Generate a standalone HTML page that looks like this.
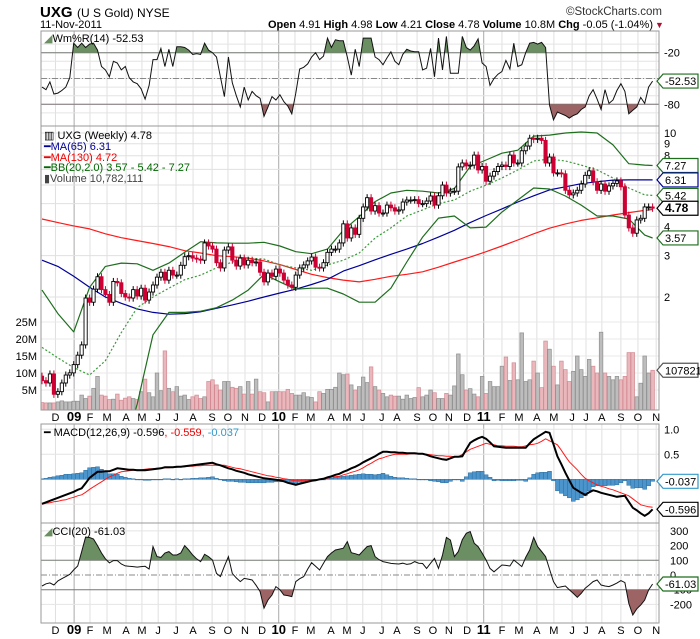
<!DOCTYPE html>
<html><head><meta charset="utf-8"><style>
body{margin:0;background:#fff;}
svg{display:block;font-family:"Liberation Sans",sans-serif;}
</style></head><body>
<svg id="chart" width="700" height="639" viewBox="0 0 700 639" xmlns="http://www.w3.org/2000/svg">
<rect x="0" y="0" width="700" height="639" fill="#fff"/>
<g id="grid"></g>
<g id="marks"></g>
<!-- header -->
<text x="40" y="17" font-size="15" font-weight="bold" fill="#000">UXG</text>
<text x="77" y="17" font-size="12" fill="#000">(U S Gold) NYSE</text>
<text x="40" y="28" font-size="11" fill="#000">11-Nov-2011</text>
<text x="662" y="15" font-size="11.5" fill="#333" text-anchor="end">©StockCharts.com</text>
<text x="653" y="28" font-size="11" fill="#000" text-anchor="end"><tspan font-weight="bold">Open</tspan> 4.91 <tspan font-weight="bold">High</tspan> 4.98 <tspan font-weight="bold">Low</tspan> 4.21 <tspan font-weight="bold">Close</tspan> 4.78 <tspan font-weight="bold">Volume</tspan> 10.8M <tspan font-weight="bold">Chg</tspan> -0.05 (-1.04%)</text>
<text x="655" y="28" font-size="9" fill="#aa1133">▼</text>
<!-- panel borders -->
<rect x="41" y="31" width="618" height="95" fill="none" stroke="#999"/>
<rect x="41" y="126" width="618" height="284" fill="none" stroke="#999"/>
<rect x="41" y="424" width="618" height="99" fill="none" stroke="#999"/>
<rect x="41" y="523" width="618" height="100" fill="none" stroke="#999"/>
<!-- legends -->
<text x="44" y="42" font-size="11" fill="#000"><tspan fill="#6b8f62">◢</tspan>Wm%R(14) -52.53</text>
<g font-size="11">
<text x="44" y="139" fill="#000">▥ UXG (Weekly) 4.78</text>
<text x="44" y="150" fill="#000099">━MA(65) 6.31</text>
<text x="44" y="161" fill="#ee0000">━MA(130) 4.72</text>
<text x="44" y="171" fill="#006600">━BB(20,2.0) 3.57 - 5.42 - 7.27</text>
<text x="44" y="182" fill="#444">▮Volume 10,782,111</text>
</g>
<text x="44" y="436" font-size="11"><tspan fill="#000">━ MACD(12,26,9) -0.596</tspan><tspan fill="#ee0000">, -0.559</tspan><tspan fill="#3399cc">, -0.037</tspan></text>
<text x="44" y="535" font-size="11" fill="#000"><tspan fill="#6b8f62">◢</tspan>CCI(20) -61.03</text>
<g id="axes" font-size="11" fill="#000"></g>
</svg>
<script>
// ---- data ----
const closes=[0.88,0.86,0.94,0.77,0.79,0.86,0.93,0.95,1.03,1.13,1.25,1.98,1.9,2.16,2.44,2.15,2.05,1.9,2.33,2.3,2.07,2.0,1.98,2.15,2.02,2.18,1.94,2.1,2.25,2.43,2.55,2.36,2.6,2.48,2.48,2.73,2.97,3.0,2.93,2.9,
2.87,3.4,3.3,3.2,2.8,2.66,3.17,3.27,2.87,2.71,2.93,2.74,2.87,2.8,2.82,2.55,2.32,2.53,2.45,2.63,2.53,2.36,2.25,2.2,2.48,2.66,2.74,2.85,2.96,2.68,2.66,2.8,3.1,3.2,3.2,3.4,4.1,
3.57,3.94,3.7,4.33,4.84,5.3,4.65,4.9,4.56,4.56,4.93,4.8,4.65,4.7,5.08,5.18,5.18,5.2,5.0,5.0,5.13,5.39,4.93,5.4,6.0,5.55,5.65,5.65,7.17,7.45,7.24,7.3,8.05,6.96,7.2,6.23,6.55,6.85,7.2,7.3,7.2,
8.05,7.45,7.45,8.4,8.8,9.5,9.4,9.5,9.3,7.45,7.9,6.76,6.76,6.7,5.7,5.45,5.55,5.7,6.06,6.6,6.9,6.2,5.7,6.06,5.65,5.95,6.1,6.25,5.9,4.47,3.94,3.74,4.26,4.33,4.84,4.84,4.78];
const firstOpen=0.92;
const volumeM=[1.3,1.2,1.2,1.2,1.5,1.8,1.5,1.5,1.7,1.7,3.5,2.5,3.2,5.5,9,3.5,3.2,2.2,2.3,3.8,2,2.6,3,2.5,2.2,4.5,8.2,4.2,3,10,4.8,16.5,5.5,4.5,6,3.2,3.5,2.2,3,3.5,
2.5,3,7.5,8,6.5,5,7.5,7.5,5.8,5.5,6,3.8,7.5,3.8,8.2,4.5,4.2,1.5,4.5,4.5,4.5,4.5,5.2,4,3.5,3.5,4.2,3,2.8,1.5,4.5,4,5.2,5.2,5.8,10,9.5,9.7,6.5,5,
6,8.8,7.2,11.8,6,5,4,3,3.5,3.2,3.2,2.3,3.5,2.5,2.8,5.7,3,3.5,5,4.2,2.5,2.5,4,3.5,6.2,15.6,9.5,5,5.4,3.8,3,9,4,7.5,6,6,12,14.7,7.8,13,
8,21.8,7.5,8,13.5,10,5.7,19.4,17,12,6.5,13.5,11,7.5,10.5,15,11,9,14,12,10,22,10,9,8,9,8,9,16,16,3,7,15,10,10.8];
const lineIdx=[0,4,8,12,16,20,24,28,32,36,40,44,48,52,56,60,64,68,72,76,80,84,88,92,96,100,104,108,112,116,120,124,128,132,136,140,144,148,152,154];
const ma65=[2.87,2.7,2.45,2.2,2.0,1.88,1.78,1.72,1.69,1.7,1.73,1.79,1.85,1.92,2.0,2.08,2.16,2.26,2.38,2.58,2.72,2.88,3.04,3.2,3.38,3.6,3.85,4.15,4.45,4.75,5.08,5.4,5.72,5.9,6.08,6.2,6.3,6.31,6.31,6.31];
const ma130=[4.3,4.15,4.02,3.9,3.72,3.58,3.48,3.38,3.28,3.15,3.08,3.0,2.97,2.93,2.85,2.75,2.62,2.5,2.42,2.36,2.32,2.38,2.45,2.5,2.56,2.68,2.82,2.96,3.12,3.3,3.5,3.72,3.93,4.1,4.24,4.35,4.47,4.58,4.68,4.72];
const bbUpper=[2.14,1.7,1.42,2.2,2.7,2.79,2.77,2.6,2.79,3.1,3.44,3.4,3.39,3.39,3.42,3.3,3.12,3.06,3.2,3.85,4.4,5.1,5.55,5.7,5.65,5.55,5.8,7.2,7.67,8.2,8.45,9.7,9.8,10.0,10.1,10.0,8.9,7.4,7.3,7.27];
const bbMiddle=[1.22,1.1,1.0,0.93,1.07,1.41,1.8,2.0,2.18,2.37,2.48,2.66,2.82,2.93,2.9,2.74,2.66,2.6,2.74,2.87,3.08,3.57,3.94,4.43,4.7,5.0,5.18,5.65,6.0,6.43,6.96,7.6,7.75,7.6,7.3,6.96,6.43,5.83,5.45,5.42];
const bbLower=[0.4,0.4,0.4,0.4,0.4,0.4,0.7,1.38,1.72,1.72,1.74,1.8,1.94,2.14,2.5,2.32,2.16,2.18,2.18,2.06,1.9,1.9,2.18,2.82,3.6,4.34,4.43,3.94,3.97,4.6,5.18,5.83,5.77,5.39,4.93,4.43,4.43,4.3,3.67,3.57];
const wmr=[-60,-63,-54,-68,-67,-64,-60,-49,-9,-14,-9,-14,-10,-9,-17,-36,-40,-48,-30,-32,-40,-36,-49,-54,-56,-62,-74,-58,-28,-28,-15,-36,-16,-36,-13,-13,-14,-17,-22,-21,-22,-9,-17,-20,-25,-48,-71,-25,-55,-70,-83,-60,-75,-65,-70,-73,-94,-83,-71,-75,-69,-77,-82,-91,-67,-39,-37,-33,-25,-20,-28,-24,-3,-14,-5,-6,-6,-25,-46,-16,-36,-3,-3,-3,-25,-28,-34,-26,-19,-30,-34,-22,-16,-18,-19,-19,-40,-38,-15,-48,-3,-40,-1,-44,-44,-44,-1,-14,-17,-12,-4,-32,-36,-58,-50,-45,-42,-29,-39,-9,-36,-34,-20,-9,-8,-10,-8,-14,-81,-98,-89,-91,-93,-96,-93,-91,-86,-83,-70,-63,-74,-86,-63,-79,-75,-64,-56,-65,-91,-87,-83,-72,-79,-60,-53];
const macd=[-0.49,-0.46,-0.43,-0.40,-0.37,-0.34,-0.31,-0.28,-0.25,-0.21,-0.18,-0.08,0.03,0.09,0.15,0.15,0.16,0.16,0.19,0.22,0.21,0.20,0.19,0.19,0.18,0.18,0.18,0.19,0.20,0.21,0.22,0.24,0.24,0.24,0.25,0.25,0.26,0.27,0.28,0.29,0.30,0.31,0.32,0.33,0.30,0.28,0.25,0.22,0.20,0.17,0.15,0.13,0.10,0.08,0.06,0.04,0.02,0.01,0.00,-0.01,-0.02,-0.04,-0.07,-0.09,-0.11,-0.09,-0.07,-0.05,-0.03,-0.02,0.00,0.01,0.04,0.06,0.09,0.11,0.15,0.18,0.22,0.25,0.29,0.34,0.38,0.42,0.46,0.51,0.55,0.55,0.54,0.54,0.53,0.53,0.52,0.52,0.52,0.51,0.51,0.49,0.46,0.44,0.42,0.40,0.39,0.42,0.45,0.45,0.46,0.60,0.73,0.78,0.82,0.85,0.81,0.74,0.66,0.65,0.64,0.63,0.63,0.63,0.63,0.63,0.63,0.72,0.80,0.85,0.90,0.95,0.93,0.70,0.46,0.30,0.13,-0.02,-0.17,-0.22,-0.27,-0.31,-0.26,-0.22,-0.24,-0.27,-0.29,-0.31,-0.33,-0.35,-0.34,-0.33,-0.45,-0.57,-0.62,-0.68,-0.73,-0.68,-0.60];
const signal=[-0.50,-0.48,-0.47,-0.45,-0.44,-0.42,-0.41,-0.38,-0.36,-0.33,-0.31,-0.26,-0.20,-0.15,-0.10,-0.05,0.00,0.05,0.08,0.12,0.15,0.16,0.17,0.18,0.19,0.19,0.20,0.21,0.21,0.22,0.22,0.23,0.23,0.24,0.24,0.25,0.25,0.26,0.26,0.27,0.27,0.28,0.28,0.28,0.28,0.28,0.28,0.26,0.24,0.22,0.21,0.19,0.17,0.15,0.13,0.11,0.09,0.07,0.06,0.04,0.03,0.01,0.00,-0.02,-0.03,-0.03,-0.02,-0.02,-0.01,-0.01,0.00,0.01,0.02,0.04,0.05,0.06,0.09,0.11,0.14,0.16,0.19,0.23,0.28,0.32,0.37,0.41,0.43,0.46,0.48,0.50,0.50,0.50,0.50,0.51,0.51,0.51,0.51,0.50,0.49,0.48,0.47,0.47,0.46,0.46,0.45,0.45,0.50,0.55,0.60,0.63,0.66,0.69,0.72,0.70,0.69,0.67,0.67,0.66,0.66,0.66,0.65,0.65,0.67,0.69,0.70,0.72,0.76,0.81,0.77,0.73,0.69,0.58,0.46,0.35,0.27,0.19,0.10,0.02,-0.03,-0.07,-0.11,-0.14,-0.16,-0.19,-0.21,-0.24,-0.27,-0.30,-0.33,-0.39,-0.45,-0.51,-0.53,-0.55,-0.56];
const cci=[-75,-60,-54,-68,-40,-25,-11,5,35,61,160,258,255,245,200,150,110,82,98,98,75,62,59,57,54,57,59,41,193,125,120,150,159,136,136,150,200,170,136,110,91,141,125,102,11,-11,60,125,11,-20,-45,-23,-28,-34,-70,-113,-225,-170,-136,-79,-100,-136,-140,-147,-45,-25,-11,40,84,60,34,80,125,150,170,176,182,227,152,145,136,165,193,200,125,105,91,85,79,77,75,80,72,76,91,80,78,45,80,113,45,136,256,238,125,159,240,284,295,216,193,150,102,45,22,45,68,65,61,102,80,57,120,170,256,193,160,125,40,-45,-86,-80,-75,-100,-125,-152,-125,-90,-68,-45,-34,-68,-75,-79,-68,-55,-38,-52,-193,-272,-230,-204,-170,-102,-61];
const monthLabels=['D','09','F','M','A','M','J','J','A','S','O','N','D','10','F','M','A','M','J','J','A','S','O','N','D','11','F','M','A','M','J','J','A','S','O','N'];
const monthBar=[3.4,8.1,12.1,16.4,21.2,25.2,29.3,33.8,38.1,42.9,46.9,51.2,55.5,59.7,63.8,67.8,72.9,76.9,80.9,85.7,89.5,94.6,98.6,102.6,107.2,111.4,116,120.3,124.8,129.1,133.7,137.2,141.2,146,150.3,154.9];
const priceTicks=[10,9,8,7,6,5,4,3,2];
const priceTickLabels=['10','9','8','','','','4','3','2'];
const volTicks=[5,10,15,20,25];
const wmTicks=[-20,-80];
const macdTicks=[1.0,0.5];
const cciTicks=[300,200,100,0,-100,-200];

// ---- scales ----
const NS='http://www.w3.org/2000/svg';
const svg=document.getElementById('chart');
const G=document.getElementById('grid'), M=document.getElementById('marks'), A=document.getElementById('axes');
function mk(tag,attrs,parent){const e=document.createElementNS(NS,tag);for(const k in attrs)e.setAttribute(k,attrs[k]);parent.appendChild(e);return e;}
const bx=i=>42+i*3.965;
const py=p=>133+101.9*Math.log(10/p);
const vy=v=>407-v*3.4;
const wy=v=>35.5-v*0.86;
const my=v=>479.3-v*50;
const cy=v=>575-v*0.147;
const L=41,R=659;

const defs=mk('defs',{},svg);
function clip(id,x,y,w,h){const c=mk('clipPath',{id:id},defs);mk('rect',{x:x,y:y,width:w,height:h},c);}
clip('cMain',L,126,R-L,284);clip('cWm',L,31,R-L,95);clip('cMacd',L,424,R-L,99);clip('cCci',L,523,R-L,100);
clip('wmUp',L,31,R-L,wy(-20)-31);clip('wmDn',L,wy(-80),R-L,126-wy(-80));
clip('cciUp',L,523,R-L,cy(100)-523);clip('cciDn',L,cy(-100),R-L,623-cy(-100));

const panels=[[31,126],[126,410],[424,523],[523,623]];
monthBar.forEach((b,k)=>{
  const x=bx(b), yr=/\d/.test(monthLabels[k]);
  panels.forEach(p=>{
    const ln=mk('line',{x1:x,x2:x,y1:p[0],y2:p[1],stroke:yr?'#aaa':'#e0e0e0','stroke-width':1},G);
    
    
  });
  [421,634].forEach(y=>{
    const t=mk('text',{x:x,y:y,'text-anchor':'middle','font-size':yr?13:11,'font-weight':yr?'bold':'normal',fill:'#000'},A);
    t.textContent=monthLabels[k];
    
    
  });
});
function hline(y,stroke,dash,name){const l=mk('line',{x1:L,x2:R,y1:y,y2:y,stroke:stroke,'stroke-width':1},G);if(dash)l.setAttribute('stroke-dasharray',dash);return l;}
function ylabel(x,y,txt,name,anchor){const t=mk('text',{x:x,y:y+4,'font-size':11,fill:'#000','text-anchor':anchor||'start'},A);t.textContent=txt;}
for(let v=-10;v>=-90;v-=10){hline(wy(v),'#e4e4e4',null,'williams-gridline');}
wmTicks.forEach(v=>{hline(wy(v),'#777',null,'williams-level-line');ylabel(664,wy(v),String(v),'williams-tick-label');});
hline(wy(-50),'#888','6,2,1,2','williams-mid-line');
priceTicks.forEach((p,k)=>{hline(py(p),'#e0e0e0',null,'price-gridline');if(priceTickLabels[k])ylabel(664,py(p),priceTickLabels[k],'price-tick-label');});
volTicks.forEach(v=>{hline(vy(v),'#e8e8e8',null,'volume-gridline');ylabel(37,vy(v),v+'M','volume-tick-label','end');});
macdTicks.forEach(v=>{hline(my(v),'#e4e4e4',null,'macd-gridline');ylabel(664,my(v),v.toFixed(1),'macd-tick-label');});
hline(my(-0.5),'#e4e4e4',null,'macd-gridline');
cciTicks.forEach(v=>{
  if(v===100||v===-100)hline(cy(v),'#777',null,'cci-level-line');
  else if(v===0)hline(cy(v),'#888','6,2,1,2','cci-zero-line');
  else hline(cy(v),'#e4e4e4',null,'cci-gridline');
  ylabel(670,cy(v),String(v),'cci-tick-label');
});

// ---- Williams %R ----
const gW=mk('g',{'clip-path':'url(#cWm)'},M);
const wpts=wmr.map((v,i)=>bx(i).toFixed(1)+','+wy(v).toFixed(1));
const wUp=mk('polygon',{points:bx(0)+','+wy(-20)+' '+wpts.join(' ')+' '+bx(wmr.length-1)+','+wy(-20),fill:'#6b8f62','clip-path':'url(#wmUp)'},gW);


const wDn=mk('polygon',{points:bx(0)+','+wy(-80)+' '+wpts.join(' ')+' '+bx(wmr.length-1)+','+wy(-80),fill:'#9c6464','clip-path':'url(#wmDn)'},gW);


const wLine=mk('polyline',{points:wpts.join(' '),fill:'none',stroke:'#111','stroke-width':1},gW);



// ---- volume ----
const gMain=mk('g',{'clip-path':'url(#cMain)'},M);
volumeM.forEach((v,i)=>{
  const o=i?closes[i-1]:firstOpen, up=closes[i]>=o;
  const b=mk('rect',{x:bx(i)-1.8,y:vy(v),width:3.6,height:410-vy(v),fill:up?'#bdbdbd':'#e8b8bc',stroke:up?'#8f8f8f':'#d48a92','stroke-width':0.7},gMain);
  
  
});
function seriesLine(vals,stroke,dash,width,name){
  const pts=vals.map((p,k)=>bx(lineIdx[k]).toFixed(1)+','+py(p).toFixed(1)).join(' ');
  const l=mk('polyline',{points:pts,fill:'none',stroke:stroke,'stroke-width':width,'stroke-linejoin':'round'},gMain);
  if(dash)l.setAttribute('stroke-dasharray',dash);
  
  
}
seriesLine(ma130,'#ff1a1a',null,1.2,'ma130-line');
seriesLine(ma65,'#000099',null,1.2,'ma65-line');
seriesLine(bbUpper,'#1e6e1e',null,1.2,'bb-upper-line');
seriesLine(bbMiddle,'#3a9a3a','2,2',1.2,'bb-middle-line');
seriesLine(bbLower,'#1e6e1e',null,1.2,'bb-lower-line');
closes.forEach((c,i)=>{
  const o=i?closes[i-1]:firstOpen, up=c>=o;
  const hi=Math.max(o,c)*1.035, lo=Math.min(o,c)*0.965, col=up?'#000':'#cc0033';
  const w=mk('line',{x1:bx(i),x2:bx(i),y1:py(hi),y2:py(lo),stroke:col,'stroke-width':1},gMain);
  
  
  const top=py(Math.max(o,c)), h=Math.max(1,py(Math.min(o,c))-top);
  const r=mk('rect',{x:bx(i)-1.6,y:top,width:3.2,height:h,fill:up?'#fff':'#cc0033',stroke:col,'stroke-width':0.9},gMain);
  
  
});

// ---- MACD ----
const gM=mk('g',{'clip-path':'url(#cMacd)'},M);
macd.forEach((v,i)=>{
  const h=v-signal[i], y0=my(0), y1=my(h);
  const b=mk('rect',{x:bx(i)-2,y:Math.min(y0,y1),width:4,height:Math.max(0.6,Math.abs(y1-y0)),fill:'#4b94cc',stroke:'#2e6e9e','stroke-width':0.5},gM);
  
  
});
const sig=mk('polyline',{points:signal.map((v,i)=>bx(i).toFixed(1)+','+my(v).toFixed(1)).join(' '),fill:'none',stroke:'#ff1a1a','stroke-width':1},gM);


const mac=mk('polyline',{points:macd.map((v,i)=>bx(i).toFixed(1)+','+my(v).toFixed(1)).join(' '),fill:'none',stroke:'#000','stroke-width':2},gM);



// ---- CCI ----
const gC=mk('g',{'clip-path':'url(#cCci)'},M);
const cpts=cci.map((v,i)=>bx(i).toFixed(1)+','+cy(v).toFixed(1));
const cUp=mk('polygon',{points:bx(0)+','+cy(100)+' '+cpts.join(' ')+' '+bx(cci.length-1)+','+cy(100),fill:'#6b8f62','clip-path':'url(#cciUp)'},gC);


const cDn=mk('polygon',{points:bx(0)+','+cy(-100)+' '+cpts.join(' ')+' '+bx(cci.length-1)+','+cy(-100),fill:'#9c6464','clip-path':'url(#cciDn)'},gC);


const cLine=mk('polyline',{points:cpts.join(' '),fill:'none',stroke:'#111','stroke-width':1},gC);



// ---- value tags ----
function tag(y,txt,color,bold,name){
  const g=mk('g',{},A);
  const p=mk('polygon',{points:`657,${y} 663,${y-7} 698,${y-7} 698,${y+7} 663,${y+7}`,fill:'#fff',stroke:color,'stroke-width':1.2},g);
  
  
  const t=mk('text',{x:665,y:y+4,'font-size':bold?12:11,'font-weight':bold?'bold':'normal',fill:'#000'},g);
  t.textContent=txt;
  
  
}
tag(wy(wmr[wmr.length-1]),'-52.53','#1e6e1e',false,'williams-value-tag');
tag(py(bbUpper[bbUpper.length-1]),'7.27','#1e6e1e',false,'bb-upper-tag');
tag(py(ma65[ma65.length-1]),'6.31','#000099',false,'ma65-tag');
tag(py(bbMiddle[bbMiddle.length-1]),'5.42','#1e6e1e',false,'bb-middle-tag');
tag(py(closes[closes.length-1]),'4.78','#000',true,'last-price-tag');
tag(py(bbLower[bbLower.length-1]),'3.57','#1e6e1e',false,'bb-lower-tag');
tag(vy(volumeM[volumeM.length-1]),'1078211','#555',false,'volume-tag');
tag(my(macd[macd.length-1]-signal[signal.length-1]),'-0.037','#3399cc',false,'macd-hist-tag');
tag(my(macd[macd.length-1]),'-0.596','#000',false,'macd-value-tag');
tag(cy(cci[cci.length-1]),'-61.03','#1e6e1e',false,'cci-value-tag');
</script>
</body></html>
